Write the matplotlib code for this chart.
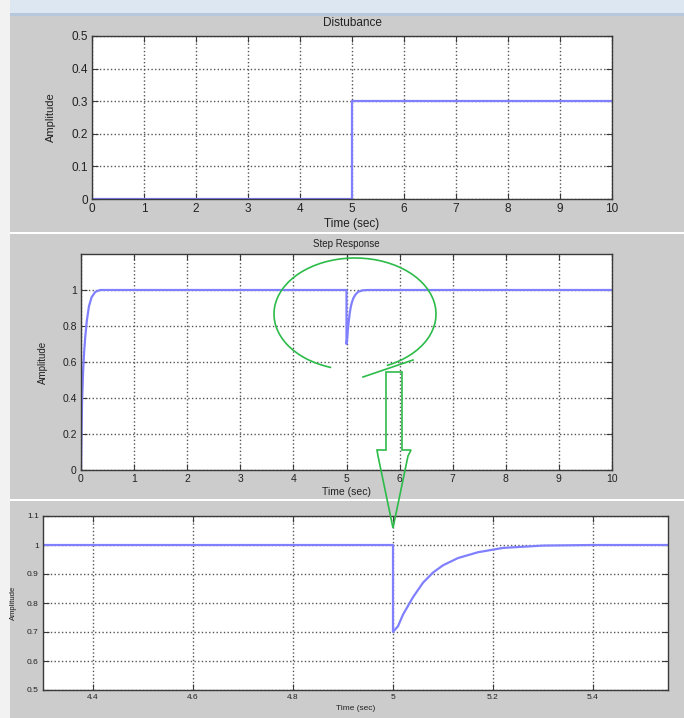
import matplotlib
matplotlib.use("Agg")
import matplotlib.pyplot as plt
from matplotlib.patches import Rectangle, Arc, Polygon
from matplotlib.lines import Line2D

# Disturbance input (step of 0.3 at t = 5 s)
dist_t = [0, 5, 5, 10]
dist_y = [0, 0, 0.3, 0.3]

# Step response: initial rise
rise_t = [0, 0.01, 0.02, 0.04, 0.06, 0.08, 0.11, 0.15, 0.2, 0.27, 0.36]
rise_y = [0, 0.2, 0.38, 0.55, 0.66, 0.74, 0.83, 0.91, 0.96, 0.99, 1.0]

# Step response: dip caused by the disturbance
dip_t = [5.0, 5.0, 5.01, 5.02, 5.04, 5.06, 5.08, 5.1, 5.13, 5.17, 5.22, 5.3, 5.4]
dip_y = [1.0, 0.70, 0.72, 0.76, 0.82, 0.87, 0.905, 0.93, 0.955, 0.975, 0.99, 0.998, 1.0]

step_t = rise_t + dip_t + [10]
step_y = rise_y + dip_y + [1.0]

time_ticks = list(range(0, 11))
dist_yticks = [0, 0.1, 0.2, 0.3, 0.4, 0.5]
dist_ylabels = ["0", "0.1", "0.2", "0.3", "0.4", "0.5"]
step_yticks = [0, 0.2, 0.4, 0.6, 0.8, 1.0]
step_ylabels = ["0", "0.2", "0.4", "0.6", "0.8", "1"]
zoom_xticks = [4.4, 4.6, 4.8, 5.0, 5.2, 5.4]
zoom_xlabels = ["4.4", "4.6", "4.8", "5", "5.2", "5.4"]
zoom_yticks = [0.5, 0.6, 0.7, 0.8, 0.9, 1.0, 1.1]
zoom_ylabels = ["0.5", "0.6", "0.7", "0.8", "0.9", "1", "1.1"]

W, H = 684, 718
line_col = "#8080ff"
green = "#2dbb4a"
plt.rcParams["font.family"] = ["Liberation Sans", "DejaVu Sans"]

fig = plt.figure(figsize=(W / 100, H / 100), dpi=100, facecolor="#cccccc")


def px(x, y):
    # pixel (from top-left) -> figure fraction
    return x / W, 1 - y / H


# window chrome: top strip, left strip, panel separators
fig.add_artist(Rectangle(px(0, 13), 1, 13 / H, transform=fig.transFigure,
                         facecolor="#dde7f2", edgecolor="none", zorder=-5))
fig.add_artist(Rectangle(px(0, 16), 1, 3 / H, transform=fig.transFigure,
                         facecolor="#b8c8dc", edgecolor="none", zorder=-5))
fig.add_artist(Rectangle(px(0, H), 10 / W, 1, transform=fig.transFigure,
                         facecolor="#f2f2f2", edgecolor="none", zorder=-5))
for yy in (233, 500):
    fig.add_artist(Rectangle(px(10, yy + 1), 1, 2 / H, transform=fig.transFigure,
                             facecolor="white", edgecolor="none", zorder=-5))


def style(ax, fs):
    ax.set_facecolor("white")
    for s in ax.spines.values():
        s.set_color("#3a3a3a")
        s.set_linewidth(1.0)
    ax.tick_params(direction="in", top=True, right=True, length=4,
                   color="#3a3a3a", labelsize=fs, labelcolor="#222222", pad=3)
    ax.grid(True, linestyle=":", color="#555555", linewidth=1.0)
    ax.set_axisbelow(True)


# panel 1: disturbance
ax1 = fig.add_axes([92 / W, 1 - 199 / H, 520 / W, 163 / H])
style(ax1, 8.5)
ax1.plot(dist_t, dist_y, color=line_col, lw=1.6)
ax1.set_xlim(0, 10)
ax1.set_ylim(0, 0.5)
ax1.set_xticks(time_ticks)
ax1.set_yticks(dist_yticks, dist_ylabels)
ax1.set_title("Distubance", fontsize=8.5, pad=7, color="#222222")
ax1.set_xlabel("Time (sec)", fontsize=8.5, color="#222222")
ax1.set_ylabel("Amplitude", fontsize=8, color="#222222")
ax1.xaxis.set_label_coords(0.5, -0.115)
ax1.yaxis.set_label_coords(-0.07, 0.5)

# panel 2: step response
ax2 = fig.add_axes([81 / W, 1 - 470 / H, 531 / W, 216 / H])
style(ax2, 7.5)
ax2.plot(step_t, step_y, color=line_col, lw=1.6)
ax2.set_xlim(0, 10)
ax2.set_ylim(0, 1.2)
ax2.set_xticks(time_ticks)
ax2.set_yticks(step_yticks, step_ylabels)
ax2.set_title("Step Response", fontsize=7, pad=5, color="#222222")
ax2.set_xlabel("Time (sec)", fontsize=7.5, color="#222222")
ax2.set_ylabel("Amplitude", fontsize=7, color="#222222")
ax2.xaxis.set_label_coords(0.5, -0.08)
ax2.yaxis.set_label_coords(-0.062, 0.5)

# panel 3: zoom on the disturbance rejection
ax3 = fig.add_axes([43 / W, 1 - 690 / H, 625 / W, 174 / H])
style(ax3, 6)
ax3.plot(step_t, step_y, color=line_col, lw=1.6)
ax3.set_xlim(4.3, 5.55)
ax3.set_ylim(0.5, 1.1)
ax3.set_xticks(zoom_xticks, zoom_xlabels)
ax3.set_yticks(zoom_yticks, zoom_ylabels)
ax3.set_xlabel("Time (sec)", fontsize=6, color="#222222")
ax3.set_ylabel("Amplitude", fontsize=5.5, color="#222222")
ax3.xaxis.set_label_coords(0.5, -0.085)
ax3.yaxis.set_label_coords(-0.042, 0.5)

# green hand-drawn highlight: ellipse + arrow to the zoomed panel
cx, cy = px(355, 314)
fig.add_artist(Arc((cx, cy), 162 / W, 112 / H, theta1=-57, theta2=245,
                   transform=fig.transFigure, color=green, lw=1.2, zorder=20))
tail = [px(363, 377), px(413, 360)]
fig.add_artist(Line2D([p[0] for p in tail], [p[1] for p in tail],
                      transform=fig.transFigure, color=green, lw=1.2, zorder=20))
arrow_px = [(386, 372), (402, 372), (402, 450), (411, 450), (408, 456),
            (393, 528), (378, 456), (377, 450), (386, 450)]
fig.add_artist(Polygon([px(x, y) for x, y in arrow_px], closed=True,
                       transform=fig.transFigure, fill=False,
                       edgecolor=green, lw=1.2, zorder=20))

fig.savefig("out.png", dpi=100, facecolor=fig.get_facecolor())
